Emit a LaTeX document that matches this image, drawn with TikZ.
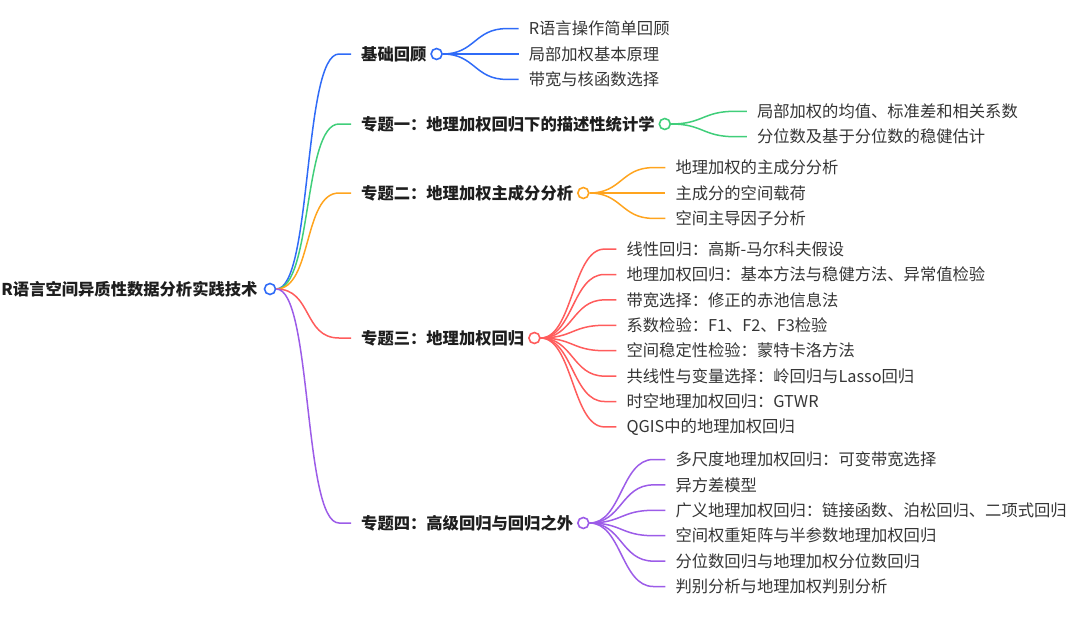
\documentclass[tikz,border=0pt]{standalone}
\usepackage{fontspec}
\newfontfamily\cjk{Noto Sans CJK SC}
\usetikzlibrary{calc}
\definecolor{mblue}{RGB}{47,107,247}
\definecolor{mgreen}{RGB}{64,206,122}
\definecolor{morange}{RGB}{255,164,30}
\definecolor{mred}{RGB}{255,92,92}
\definecolor{mpurple}{RGB}{156,92,232}
\definecolor{ink}{RGB}{30,30,30}

\begin{document}
\begin{tikzpicture}[x=1pt, y=-1pt,
    font=\cjk\fontsize{16.3}{19}\selectfont,
    topic/.style={anchor=west, inner xsep=10pt, inner ysep=2pt, text=ink, font=\cjk\bfseries\fontsize{16.3}{19}\selectfont},
    leaf/.style={anchor=west, inner xsep=10pt, inner ysep=2pt, text=ink!90},
    dot/.style={circle, draw=#1, fill=white, line width=1.6pt, inner sep=0pt, minimum size=11pt},
    link/.style={draw=#1, line width=1.5pt},
    branch/.style={to path={.. controls +(#1,0) and +(-#1,0) .. ($(\tikztotarget)+(-12,0)$) -- (\tikztotarget)}},
    branch/.default=32]
    \useasboundingbox (0,0) rectangle (1080,624);

    % root
    \node[dot=mblue] (r) at (270,289) {};
    \node[topic, anchor=east, inner xsep=6pt] (root) at (r.west) {R语言空间异质性数据分析实践技术};

    % topics
    \node[topic] (t1) at (351,54) {基础回顾};
    \node[topic] (t2) at (351,124) {专题一：地理加权回归下的描述性统计学};
    \node[topic] (t3) at (351,193) {专题二：地理加权主成分分析};
    \node[topic] (t4) at (351,338) {专题三：地理加权回归};
    \node[topic] (t5) at (351,523) {专题四：高级回归与回归之外};

    \draw[link=mblue] (r.east) to[branch=36] (t1.west);
    \draw[link=mgreen] (r.east) to[branch=36] (t2.west);
    \draw[link=morange] (r.east) to[branch=36] (t3.west);
    \draw[link=mred] (r.east) to[branch=36] (t4.west);
    \draw[link=mpurple] (r.east) to[branch=36] (t5.west);

    % leaves
    \foreach \t/\col/\n/\list in {
        t1/mblue/3/{R语言操作简单回顾,局部加权基本原理,带宽与核函数选择},
        t2/mgreen/2/{局部加权的均值、标准差和相关系数,分位数及基于分位数的稳健估计},
        t3/morange/3/{地理加权的主成分分析,主成分的空间载荷,空间主导因子分析},
        t4/mred/8/{线性回归：高斯-马尔科夫假设,地理加权回归：基本方法与稳健方法、异常值检验,带宽选择：修正的赤池信息法,系数检验：F1、F2、F3检验,空间稳定性检验：蒙特卡洛方法,共线性与变量选择：岭回归与Lasso回归,时空地理加权回归：GTWR,QGIS中的地理加权回归},
        t5/mpurple/6/{多尺度地理加权回归：可变带宽选择,异方差模型,广义地理加权回归：链接函数、泊松回归、二项式回归,空间权重矩阵与半参数地理加权回归,分位数回归与地理加权分位数回归,判别分析与地理加权判别分析}} {
      \node[dot=\col] (\t c) at (\t.east) {};
      \foreach \txt [count=\i] in \list {
        \node[leaf] (\t l\i) at ($(\t c)+(82,{(\i-(\n+1)/2)*25.4})$) {\txt};
        \draw[link=\col] (\t c.east) to[branch] (\t l\i.west);
      }
    }
\end{tikzpicture}
\end{document}
